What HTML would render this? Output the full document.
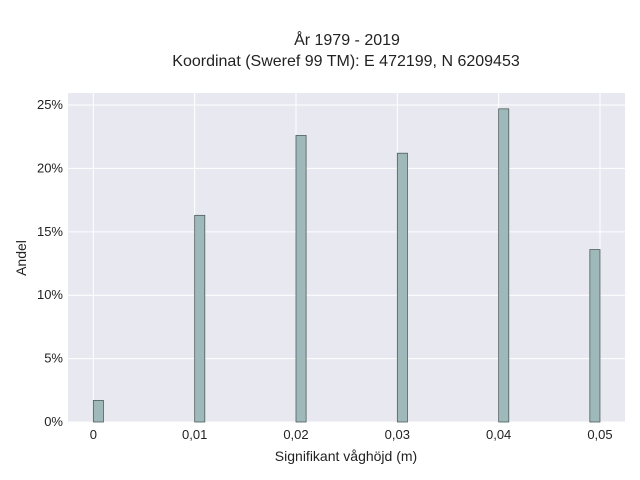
<!DOCTYPE html>
<html><head><meta charset="utf-8"><style>
body{margin:0;background:#fff;}
svg{display:block;font-family:"Liberation Sans",sans-serif;}
</style></head><body>
<svg id="c" width="640" height="480">
<text x="347" y="45" text-anchor="middle" font-size="16" fill="#222">År 1979 - 2019</text>
<text x="346" y="66" text-anchor="middle" font-size="16" fill="#222">Koordinat (Sweref 99 TM): E 472199, N 6209453</text>
<rect x="68" y="93" width="557" height="329" fill="#e8e8f0"/>
<g id="grid"></g><g id="bars"></g><g id="ticks"></g>
<text x="346" y="461" text-anchor="middle" font-size="14" fill="#222">Signifikant våghöjd (m)</text>
<text transform="translate(26,258) rotate(-90)" text-anchor="middle" font-size="14" fill="#222">Andel</text>
</svg>
<script>
const binStarts=[0,0.01,0.02,0.03,0.04,0.049];
const values=[1.7,16.3,22.6,21.2,24.7,13.6];
const xTicks=[0,0.01,0.02,0.03,0.04,0.05];
const xTickLabels=["0","0,01","0,02","0,03","0,04","0,05"];
const yTicks=[0,5,10,15,20,25];
const yTickLabels=["0%","5%","10%","15%","20%","25%"];
const binWidth=0.001;
const L=68,R=625,T=93,B=422,xMin=-0.0025,xMax=0.05247,yMax=25.95;
const xs=v=>L+(v-xMin)/(xMax-xMin)*(R-L);
const ys=v=>B-v/yMax*(B-T);
const NS="http://www.w3.org/2000/svg";
const g=document.getElementById('grid'),b=document.getElementById('bars'),t=document.getElementById('ticks');
function mk(tag,attrs,parent){const e=document.createElementNS(NS,tag);for(const k in attrs)e.setAttribute(k,attrs[k]);parent.appendChild(e);return e;}
xTicks.forEach((v,i)=>{
  const l=mk('line',{x1:xs(v),x2:xs(v),y1:T,y2:B,stroke:'#fff','stroke-width':1},g);
  
  
  const tx=mk('text',{x:xs(v),y:B+17,'text-anchor':'middle','font-size':13,fill:'#222'},t);
  tx.textContent=xTickLabels[i];
  
  
});
yTicks.forEach((v,i)=>{
  const l=mk('line',{x1:L,x2:R,y1:ys(v),y2:ys(v),stroke:'#fff','stroke-width':1},g);
  
  
  const tx=mk('text',{x:L-5,y:ys(v)+4,'text-anchor':'end','font-size':13,fill:'#222'},t);
  tx.textContent=yTickLabels[i];
  
  
});
binStarts.forEach((c,i)=>{
  const x0=xs(c),x1=xs(c+binWidth);
  const r=mk('rect',{x:x0,y:ys(values[i]),width:x1-x0,height:B-ys(values[i]),fill:'#9fb8b9',stroke:'#4d5d5d','stroke-width':0.8},b);
  
  
});
</script>
</body></html>
